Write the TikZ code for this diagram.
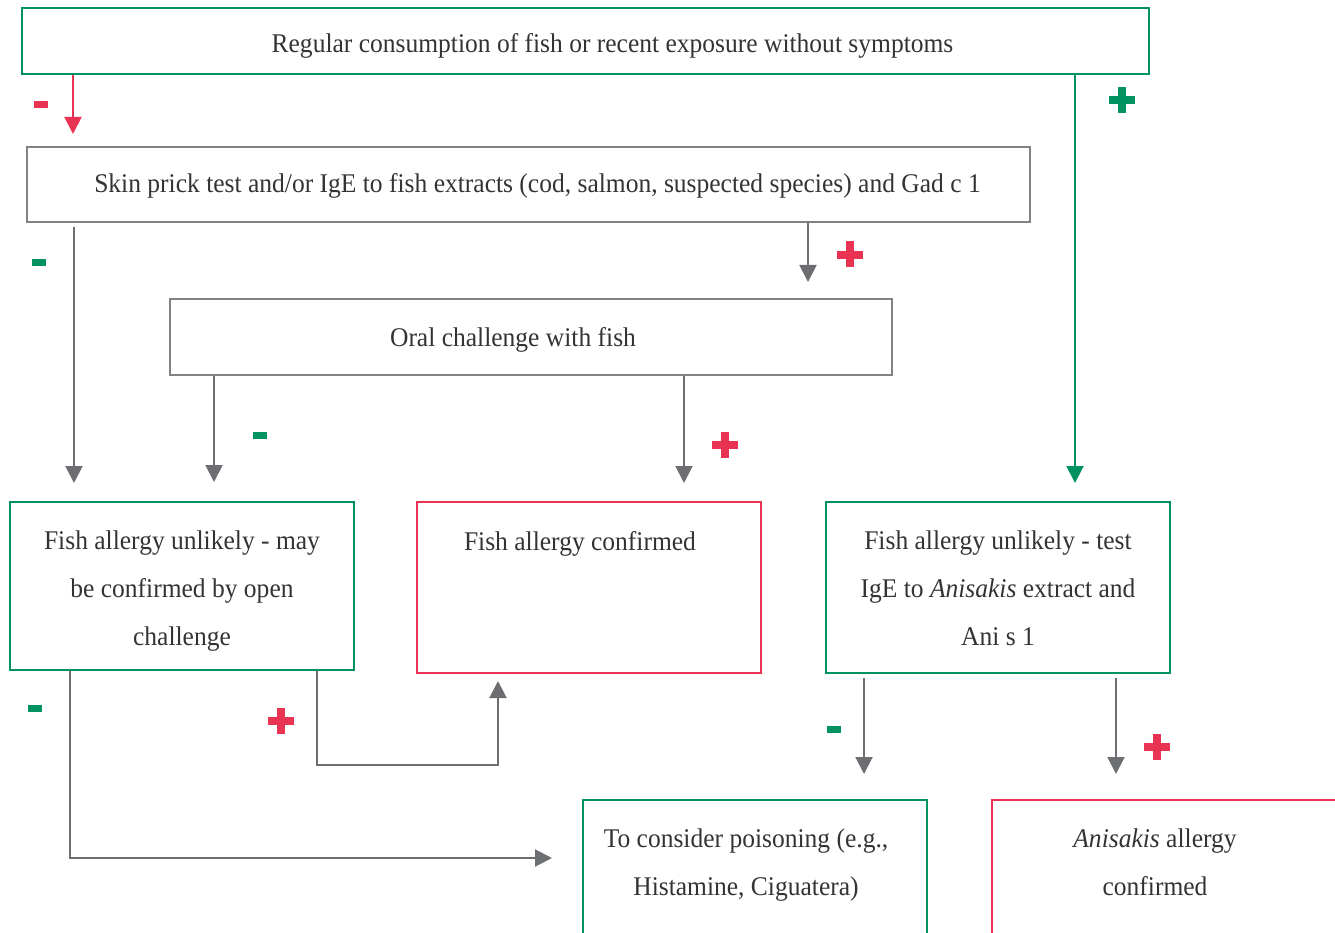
\documentclass[tikz,border=0pt]{standalone}
\usepackage{fontspec}
\setmainfont{Liberation Serif}[FakeStretch=0.945]
\usetikzlibrary{arrows.meta,positioning}
\definecolor{fgreen}{RGB}{0,146,96}
\definecolor{fred}{RGB}{232,52,82}
\definecolor{fgray}{RGB}{128,130,133}
\definecolor{agray}{RGB}{109,110,113}
\definecolor{ftext}{RGB}{51,51,51}
\newcommand{\minussign}{\rule{14pt}{7pt}}
\newcommand{\plussign}{\makebox[26pt][l]{\rule[9pt]{26pt}{8pt}\hspace*{-17pt}\rule{8pt}{26pt}}}

\begin{document}
\begin{tikzpicture}[x=1pt, y=-1pt, >={Triangle[width=17pt,length=17pt]},
    box/.style={draw=fgray, line width=2pt, inner sep=0pt},
    greenbox/.style={box, draw=fgreen},
    redbox/.style={box, draw=fred},
    txt/.style={text=ftext, font=\fontsize{27}{48}\selectfont, align=center, inner sep=0pt, anchor=north},
    line/.style={txt, anchor=center, text depth=6},
    link/.style={->, draw=agray, line width=2pt},
    sign/.style={inner sep=0pt}]
    \clip (0,0) rectangle (1335,933);
    % question boxes
    \node[greenbox, minimum width=1127, minimum height=66] (start) at (585.5,41) {};
    \node[box, minimum width=1003, minimum height=75] (skin) at (528.5,184.5) {};
    \node[box, minimum width=722, minimum height=76] (oral) at (531,337) {};
    \node[line, text height=29, xshift=27] (starttext) at (start) {Regular consumption of fish or recent exposure without symptoms};
    \node[line, text height=22, xshift=9] (skintext) at (skin) {Skin prick test and/or IgE to fish extracts (cod, salmon, suspected species) and Gad c 1};
    \node[line, text height=24, xshift=-18] (oraltext) at (oral) {Oral challenge with fish};
    % outcome boxes
    \node[greenbox, minimum width=344, minimum height=168] (unlikelyA) at (182,586) {};
    \node[redbox, minimum width=344, minimum height=171] (confirmed) at (589,587.5) {};
    \node[greenbox, minimum width=344, minimum height=171] (unlikelyB) at (998,587.5) {};
    \node[greenbox, minimum width=344, minimum height=171] (poison) at (755,885.5) {};
    \node[redbox, minimum width=344, minimum height=171] (anisakis) at (1164,885.5) {};
    \node[txt, yshift=-30] (unlikelyAtext) at (unlikelyA.north) {Fish allergy unlikely - may\\be confirmed by open\\challenge};
    \node[txt, yshift=-30, xshift=-9] (confirmedtext) at (confirmed.north) {Fish allergy confirmed};
    \node[txt, yshift=-30] (unlikelyBtext) at (unlikelyB.north) {Fish allergy unlikely - test\\IgE to \textit{Anisakis} extract and\\Ani s 1};
    \node[txt, yshift=-30, xshift=-9] (poisontext) at (poison.north) {To consider poisoning (e.g.,\\Histamine, Ciguatera)};
    \node[txt, yshift=-30, xshift=-9] (anisakistext) at (anisakis.north) {\textit{Anisakis} allergy\\confirmed};
    % arrows
    \draw[link, draw=fred, shorten >=12] (start.south -| 73,0) -- (skin.north -| 73,0);
    \draw[link, draw=fgreen, shorten >=18] (start.south -| 1075,0) -- (unlikelyB.north -| 1075,0);
    \draw[link, shorten <=4, shorten >=18] (skin.south -| 74,0) -- (unlikelyA.north -| 74,0);
    \draw[link, shorten >=16] (skin.south -| 808,0) -- (oral.north -| 808,0);
    \draw[link, shorten >=19] (oral.south -| 214,0) -- (unlikelyA.north -| 214,0);
    \draw[link, shorten >=18] (oral.south -| 684,0) -- (confirmed.north -| 684,0);
    \draw[link, shorten >=7] (unlikelyA.south -| 317,0) -- ++(0,94) -| (confirmed.south -| 498,0);
    \draw[link, shorten >=30] (unlikelyA.south -| 70,0) |- (poison.west |- 0,858);
    \draw[link, shorten <=4, shorten >=25] (unlikelyB.south -| 864,0) -- (poison.north -| 864,0);
    \draw[link, shorten <=4, shorten >=25] (unlikelyB.south -| 1116,0) -- (anisakis.north -| 1116,0);
    % signs
    \node[sign, text=fred] (m1) at (41,105) {\minussign};
    \node[sign, text=fgreen] (p1) at (1122,100) {\plussign};
    \node[sign, text=fgreen] (m2) at (39,262) {\minussign};
    \node[sign, text=fred] (p2) at (849.5,254.5) {\plussign};
    \node[sign, text=fgreen] (m3) at (260,435) {\minussign};
    \node[sign, text=fred] (p3) at (725,445) {\plussign};
    \node[sign, text=fred] (p4) at (281,721) {\plussign};
    \node[sign, text=fgreen] (m4) at (35,708) {\minussign};
    \node[sign, text=fgreen] (m5) at (834,729) {\minussign};
    \node[sign, text=fred] (p5) at (1157,747) {\plussign};
\end{tikzpicture}
\end{document}
